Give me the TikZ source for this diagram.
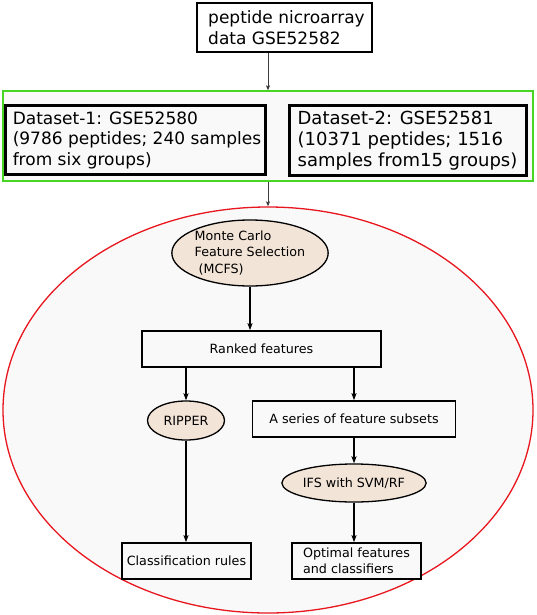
\documentclass[tikz,border=0pt]{standalone}
\usepackage{fontspec}
\setmainfont{DejaVu Sans}
\usetikzlibrary{
  arrows.meta,
  shapes.geometric
}
\definecolor{fillOval}{RGB}{243, 228, 216}
\definecolor{fillPanel}{RGB}{249, 249, 249}
\definecolor{panelgreen}{RGB}{70, 215, 35}
\definecolor{ringred}{RGB}{232, 22, 30}
\definecolor{arrgray}{RGB}{60, 60, 60}
\tikzset{
  % outer boxes
  bigfont/.style   = {font=\fontsize{17}{20.5}\selectfont},
  smallfont/.style = {font=\fontsize{12.7}{16.5}\selectfont},
  topbox/.style    = {draw=black, line width=1.8pt, fill=white, align=left, inner sep=0pt, bigfont},
  dsbox/.style     = {draw=black, line width=3pt, fill=fillPanel, align=left, inner sep=0pt, bigfont},
  panelbox/.style  = {draw=panelgreen, line width=1.3pt, fill=fillPanel, inner sep=0pt},
  ringshape/.style = {ellipse, draw=ringred, line width=1.3pt, fill=fillPanel, inner sep=0pt},
  % inner boxes
  stepbox/.style   = {draw=black, line width=1.6pt, fill=fillPanel, align=left, inner sep=0pt, smallfont},
  ovalbox/.style   = {ellipse, draw=black, line width=1.3pt, fill=fillOval, align=left, inner sep=0pt, smallfont},
  % arrows
  thinarrow/.style = {-{Stealth[length=5pt,width=4pt,inset=1pt]}, line width=0.9pt, arrgray},
  flowarrow/.style = {-{Stealth[length=7pt,width=5pt,inset=1.5pt]}, line width=1.5pt, black},
}

\begin{document}
\begin{tikzpicture}[x=1pt, y=-1pt]
  \useasboundingbox (0,0) rectangle (536,615);
  % source data
  \node[topbox, minimum width=175, minimum height=49] (data) at (284.5,27.5)
    {\hspace*{4pt}peptide nicroarray\\\hspace*{4pt}data GSE52582};
  % the two datasets
  \node[panelbox, minimum width=530, minimum height=90] (panel) at (268,136) {};
  \node[dsbox, minimum width=260, minimum height=68] (ds1) at (135,140)
    {\hspace*{4pt}Dataset-1: GSE52580\\\hspace*{4pt}(9786 peptides; 240 samples\\\hspace*{4pt}from six groups)};
  \node[dsbox, minimum width=237, minimum height=69, font=\fontsize{18}{21}\selectfont] (ds2) at (407.5,140.5)
    {Dataset-2: GSE52581\\(10371 peptides; 1516\\samples from15 groups)};
  \draw[thinarrow] (data.south -| panel.north) -- (panel.north);
  % analysis ring
  \node[ringshape, minimum width=530, minimum height=406] (ring) at (268,410) {};
  \draw[thinarrow] (panel.south) -- (ring.north);
  \node[ovalbox, minimum width=136, minimum height=66] (mcfs) at (250,253)
    {Monte Carlo\\Feature Selection\\\hspace*{4pt}(MCFS)};
  \node[stepbox, minimum width=239, minimum height=36] (ranked) at (261.5,349) {Ranked features};
  \node[ovalbox, minimum width=77, minimum height=39] (ripper) at (186,420.5) {RIPPER};
  \node[stepbox, minimum width=203, minimum height=36] (series) at (354,419) {A series of feature subsets};
  \node[ovalbox, minimum width=142, minimum height=38] (ifs) at (354,483) {IFS with SVM/RF};
  \node[stepbox, minimum width=129, minimum height=36] (rules) at (186.5,561) {Classification rules};
  \node[stepbox, minimum width=129, minimum height=36] (optimal) at (356.5,561)
    {Optimal features\\and classifiers};
  % flow inside the ring
  \draw[flowarrow] (mcfs.south) -- (mcfs.south |- ranked.north);
  \draw[flowarrow] (ripper.north |- ranked.south) -- (ripper.north);
  \draw[flowarrow] (series.north |- ranked.south) -- (series.north);
  \draw[flowarrow] (series.south) -- (ifs.north);
  \draw[flowarrow] (ifs.south) -- (ifs.south |- optimal.north);
  \draw[flowarrow] (ripper.south) -- (ripper.south |- rules.north);
\end{tikzpicture}
\end{document}
